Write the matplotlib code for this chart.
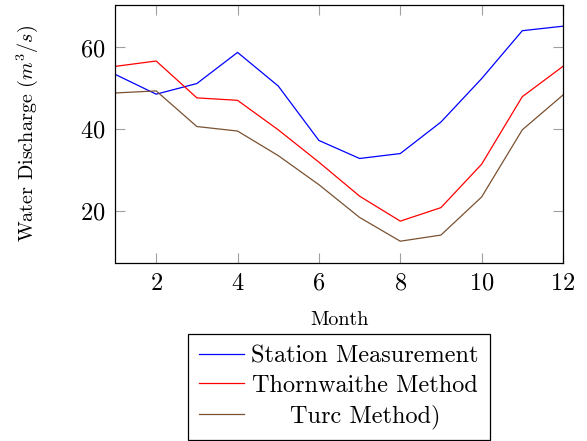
import matplotlib
matplotlib.use("Agg")
import matplotlib.pyplot as plt

plt.rcParams['font.family'] = ['cmr10', 'DejaVu Serif']
plt.rcParams['mathtext.fontset'] = 'cm'
plt.rcParams['axes.formatter.use_mathtext'] = True

# monthly discharge
months = [1, 2, 3, 4, 5, 6, 7, 8, 9, 10, 11, 12]
station = [53.4, 48.6, 51.2, 58.8, 50.6, 37.3, 32.9, 34.1, 41.8, 52.4, 64.1, 65.2]
thornwaithe = [55.4, 56.7, 47.7, 47.1, 39.9, 32.0, 23.7, 17.6, 20.9, 31.5, 48.0, 55.4]
turc = [48.9, 49.4, 40.7, 39.6, 33.6, 26.5, 18.5, 12.7, 14.2, 23.5, 39.9, 48.4]
labels = ["Station Measurement", "Thornwaithe Method", "Turc Method)"]
colors = ["#0000ff", "#ff0000", "#7a5232"]

W, H = 587, 441
fig = plt.figure(figsize=(W / 100, H / 100), dpi=100)
ax = fig.add_axes([115.5 / W, 1 - 262.7 / H, (563 - 115.5) / W, (262.7 - 4.7) / H])

for series, lab, col in zip([station, thornwaithe, turc], labels, colors):
    ax.plot(months, series, color=col, lw=0.9, label=lab)

# pgfplots style: 10% padding on y, none on x
lo = min(min(station), min(thornwaithe), min(turc))
hi = max(max(station), max(thornwaithe), max(turc))
pad = 0.1 * (hi - lo)
ax.set_xlim(1, 12)
ax.set_ylim(lo - pad, hi + pad)
ax.set_xticks([2, 4, 6, 8, 10, 12])
ax.set_yticks([20, 40, 60])

ax.tick_params(direction='in', length=7.5, width=0.8, color='#a0a0a0',
               top=True, right=True, labelsize=17.5)
ax.tick_params(axis='x', pad=7)
ax.tick_params(axis='y', pad=7)
for s in ax.spines.values():
    s.set_linewidth(0.9)
    s.set_color('black')

ax.set_xlabel("Month", fontsize=14.5, labelpad=12)
ax.set_ylabel("Water Discharge ($m^3/s$)", fontsize=14.5, labelpad=29)

leg = ax.legend(loc='upper center', bbox_to_anchor=(339 / W, 1 - 334 / H),
                bbox_transform=fig.transFigure, fontsize=17.5, frameon=True,
                fancybox=False, edgecolor='black', framealpha=1,
                handlelength=1.85, handletextpad=0.3, borderpad=0.45,
                labelspacing=0.31, borderaxespad=0)
leg.get_frame().set_linewidth(0.9)

# pgfplots centres legend entries in their cell
fig.canvas.draw()
renderer = fig.canvas.get_renderer()
texts = leg.get_texts()
widths = [t.get_window_extent(renderer).width for t in texts]
for t, w in zip(texts, widths):
    t.set_x(t.get_position()[0] + (max(widths) - w) / 2)

fig.savefig("out.png", dpi=100)
